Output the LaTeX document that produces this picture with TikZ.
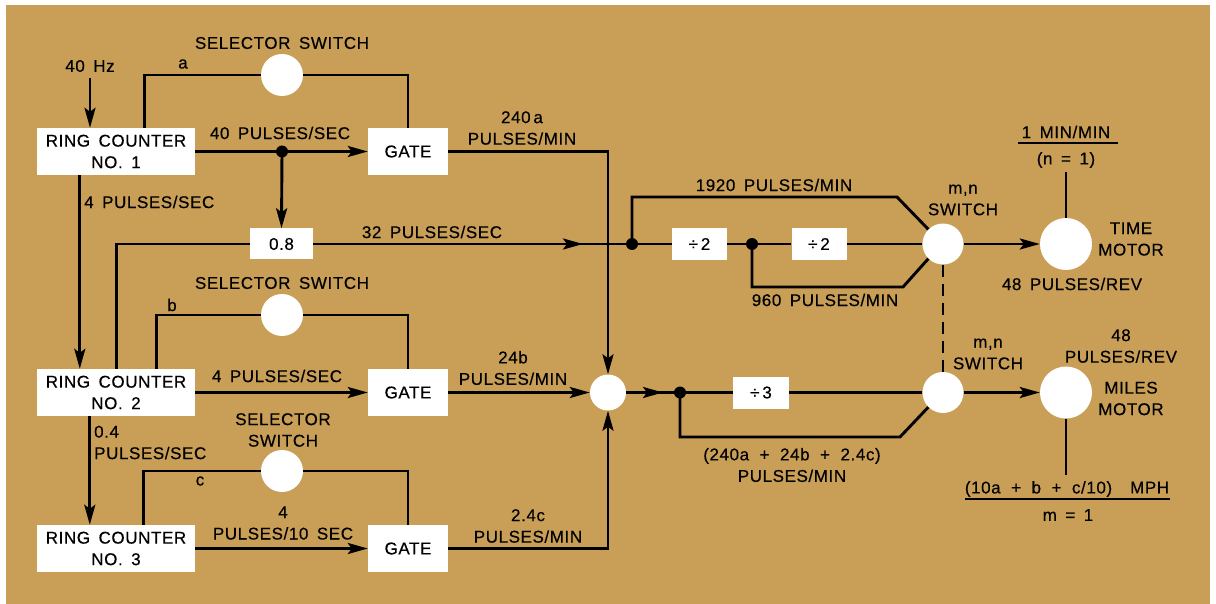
\documentclass[tikz,border=0pt]{standalone}
\usepackage{fontspec}
\setmainfont{Liberation Sans}[LetterSpace=3.5,WordSpace=1.6,FakeBold=0.4]
\usetikzlibrary{arrows.meta,calc}
\definecolor{tan}{RGB}{201,159,88}
\newcommand{\pl}{\hspace{10.5pt}+\hspace{10.5pt}}
\begin{document}
\begin{tikzpicture}[x=1pt,y=-1pt,
  every node/.style={font=\fontsize{17}{21.5}\selectfont, inner sep=0pt, align=center},
  box/.style={fill=white, minimum height=47pt},
  rc/.style={box, minimum width=158pt},
  gatebox/.style={box, minimum width=80pt},
  smallbox/.style={fill=white, minimum height=32pt, minimum width=56pt},
  sel/.style={circle, fill=white, minimum size=42pt},
  sw/.style={circle, fill=white, minimum size=41pt},
  motor/.style={circle, fill=white, minimum size=52pt},
  wire/.style={line width=2.9pt},
  arr/.style={wire, -{Stealth[length=20pt,width=11pt,inset=4pt]}},
  bar/.style={line width=1.8pt},
  dot/.style={circle, fill=black, minimum size=12pt}
]
\useasboundingbox (0,0) rectangle (1216,604);
\fill[white] (0,0) rectangle (1216,604);
\fill[tan] (6,5) rectangle (1210,604);

% boxes
\node[rc] (rc1) at (116,151.5) {RING COUNTER\\NO. 1};
\node[rc] (rc2) at (116,392.5) {RING COUNTER\\NO. 2};
\node[rc] (rc3) at (116,548.5) {RING COUNTER\\NO. 3};
\node[gatebox] (g1) at (408,151.5) {GATE};
\node[gatebox] (g2) at (408,392.5) {GATE};
\node[gatebox] (g3) at (408,548.5) {GATE};
\node[smallbox, minimum width=63pt, minimum height=31pt] (p8) at (281.5,244) {0.8};
\node[smallbox, minimum width=55pt] (d1) at (699.5,244) {÷\,2};
\node[smallbox, minimum width=55pt] (d2) at (819,244) {÷\,2};
\node[smallbox] (d3) at (761,392.5) {÷\,3};

% circles
\node[sel] (s1) at (282,75) {};
\node[sel] (s2) at (282,315) {};
\node[sel] (s3) at (282,471) {};
\node[circle, fill=white, minimum size=36pt] (sum) at (608,392.5) {};
\node[sw] (mn1) at (943,244) {};
\node[sw] (mn2) at (943,392.5) {};
\node[motor] (tm) at (1066,244) {};
\node[motor] (mm) at (1066,392.5) {};

% junction points (dots drawn later on top)
\coordinate (j1) at (282,151.5);
\coordinate (j2) at (632,244);
\coordinate (j4) at (752,244);
\coordinate (j3) at (680,392.5);

% labels
\node (hz) at (90,66) {40 Hz};
\node at (282,43) {SELECTOR SWITCH};
\node at (183,64) {a};
\node at (280,133) {40 PULSES/SEC};
\node[anchor=west] at (84,202) {4 PULSES/SEC};
\node at (522,128) {240\,a\\PULSES/MIN};
\node at (432,232) {32 PULSES/SEC};
\node at (774,185) {1920 PULSES/MIN};
\node at (825,300) {960 PULSES/MIN};
\node at (963,200) {m,n\\SWITCH};
\node at (1131,239) {TIME\\MOTOR};
\node at (1072,284) {48 PULSES/REV};
\node at (1066,132) {1 MIN/MIN};
\node at (1066,160) {(n = 1)};
\node at (282,283) {SELECTOR SWITCH};
\node at (172,305) {b};
\node at (277,376) {4 PULSES/SEC};
\node at (513,368) {24b\\PULSES/MIN};
\node[anchor=west, align=left] at (94,442.5) {0.4\\PULSES/SEC};
\node at (283,430) {SELECTOR\\SWITCH};
\node at (200,481) {c};
\node at (283,523) {4\\PULSES/10 SEC};
\node at (528,526) {2.4c\\PULSES/MIN};
\node at (792,465) {(240a\pl 24b\pl 2.4c)\\PULSES/MIN};
\node at (988,354) {m,n\\SWITCH};
\node at (1121,346) {48\\PULSES/REV};
\node at (1131,398.5) {MILES\\MOTOR};
\node at (1067,489) {(10a\pl b\pl c/10)\hspace{18pt}MPH};
\node at (1068,515) {m = 1};

% helper coordinates
\coordinate (ta) at ($(rc1.north west)+(108,0)$);
\coordinate (tb) at ($(rc2.north west)+(120,0)$);
\coordinate (tc) at ($(rc3.north west)+(107,0)$);
\coordinate (r12) at ($(rc1.south west)+(43,0)$);
\coordinate (r12e) at ($(rc2.north west)+(43,0)$);
\coordinate (r23) at ($(rc2.south west)+(53,0)$);
\coordinate (r23e) at ($(rc3.north west)+(53,0)$);
\coordinate (r2p) at ($(rc2.north west)+(80,0)$);
\coordinate (a32) at (583,244);
\coordinate (as) at (663,392.5);
\coordinate (k1) at (897,197);
\coordinate (k2) at (903,287);
\coordinate (k3) at (900,437);
\coordinate (tmtop) at (1066,172);
\coordinate (mmbot) at (1066,475);
\coordinate (b1l) at (1018,143);
\coordinate (b1r) at (1118,143);
\coordinate (b2l) at (965,499);
\coordinate (b2r) at (1170,499);

% connectors
\draw[arr] (hz.south) ++(0,6) -- (hz.south |- rc1.north);
\draw[wire] (ta) |- (s1.west);
\draw[wire] (s1.east) -| (g1.north);
\draw[arr] (rc1.east) -- (g1.west);
\draw[arr] (j1) -- (p8.north);
\draw[arr] (r12) -- (r12e);
\draw[wire] (r2p) |- (p8.west);
\draw[wire] (p8.east) -- (d1.west);
\draw[arr] (p8.east) -- (a32);
\draw[wire] (d1.east) -- (d2.west);
\draw[wire] (d2.east) -- (mn1.west);
\draw[wire] (j2) |- (k1) -- (mn1.135);
\draw[wire] (j4) |- (k2) -- (mn1.-135);
\draw[arr] (mn1.east) -- (tm.west);
\draw[wire] (tm.north) -- (tmtop);
\draw[wire, dash pattern=on 12pt off 7pt] (mn1.south) -- (mn2.north);

\draw[arr] (g1.east) -| (sum.north);
\draw[wire] (tb) |- (s2.west);
\draw[wire] (s2.east) -| (g2.north);
\draw[arr] (rc2.east) -- (g2.west);
\draw[arr] (g2.east) -- (sum.west);
\draw[arr] (r23) -- (r23e);
\draw[wire] (tc) |- (s3.west);
\draw[wire] (s3.east) -| (g3.north);
\draw[arr] (rc3.east) -- (g3.west);
\draw[arr] (g3.east) -| (sum.south);

\draw[wire] (sum.east) -- (d3.west);
\draw[arr] (sum.east) -- (as);
\draw[wire] (d3.east) -- (mn2.west);
\draw[wire] (j3) |- (k3) -- (mn2.-135);
\draw[arr] (mn2.east) -- (mm.west);
\draw[wire] (mm.south) -- (mmbot);

% junction dots
\foreach \j in {j1,j2,j3,j4} \node[dot] at (\j) {};

% fraction bars
\draw[bar] (b1l) -- (b1r);
\draw[bar] (b2l) -- (b2r);
\end{tikzpicture}
\end{document}
